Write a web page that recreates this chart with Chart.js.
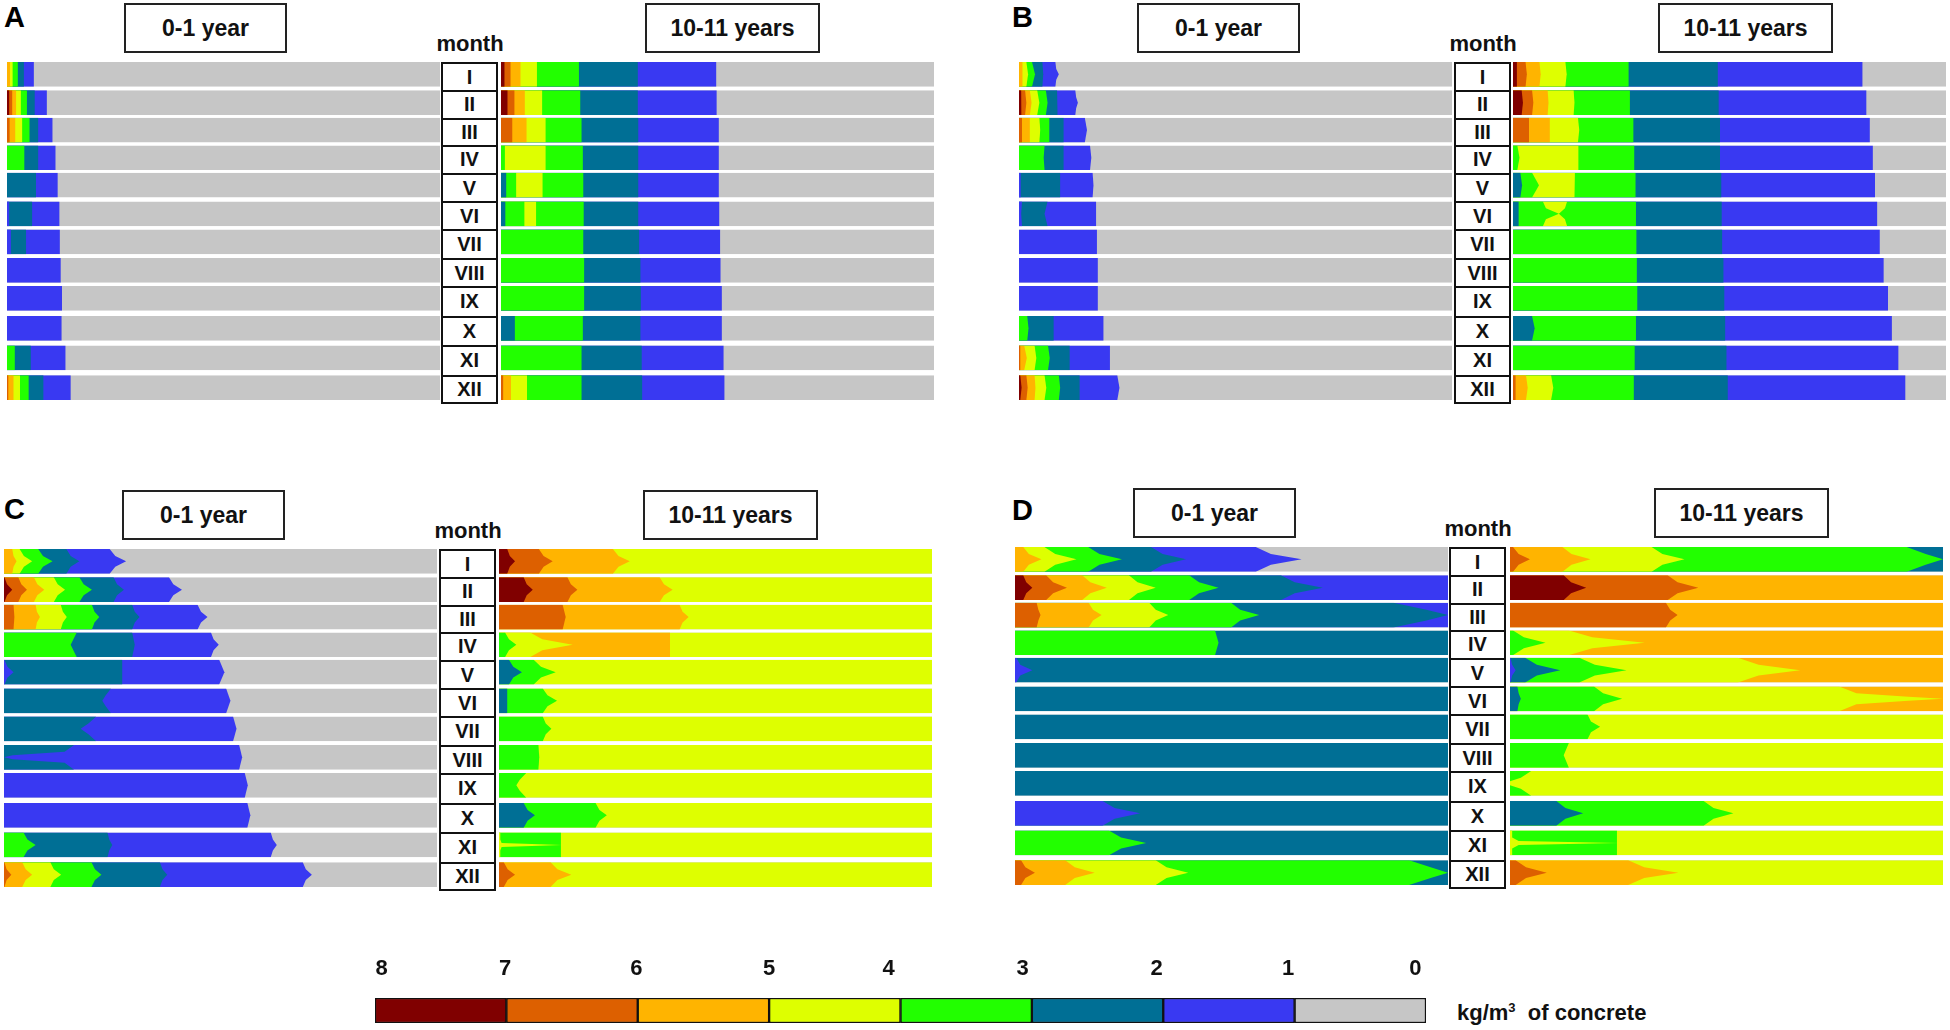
<!DOCTYPE html>
<html>
<head>
<meta charset="utf-8">
<title>Chloride content in concrete</title>
<script src="https://cdn.jsdelivr.net/npm/chart.js@4"></script>
<style>
    body { margin: 0; background: #fff; font-family: "Liberation Sans", Arial, sans-serif; font-weight: bold; color: #111; }
    #page { position: relative; width: 1950px; height: 1030px; overflow: hidden; }
    canvas { position: absolute; }
    .title { position: absolute; box-sizing: border-box; height: 50px; border: 2px solid #222; text-align: center; font-size: 23px; line-height: 46px; background: #fff; }
    .month { position: absolute; box-sizing: border-box; border: 2px solid #111; background: #fff; text-align: center; font-size: 20px; }
    .text { position: absolute; white-space: nowrap; }
    sup { font-size: 13px; line-height: 0; }
</style>
</head>
<body>
<div id="page"></div>
<script>
const months = ["I", "II", "III", "IV", "V", "VI", "VII", "VIII", "IX", "X", "XI", "XII"];
const ageLabels = ["0-1 year", "10-11 years"];
const legendTicks = ["8", "7", "6", "5", "4", "3", "2", "1", "0"];
// the figure's scale numbers do not sit exactly on the colour steps
const legendTickPos = [7.95, 7.01, 6.01, 5, 4.09, 3.07, 2.05, 1.05, 0.08];
const legendUnit = "kg/m<sup>3</sup>&nbsp; of concrete";

// colour of the band by its kg/m3 class: 0 = 0-1 ... 7 = 7-8
const levelColors = ["#c6c6c6", "#3939f2", "#006f95", "#22ff00", "#deff00", "#ffb400", "#dd6000", "#800000"];

// every row is one month, a list of bands from left to right
// [class, depth at row edge, (depths part way in), depth at row centre], depth in % of the row
const aYoung = [
    [[5, 0.7], [4, 1.3], [3, 2.5], [2, 3.9], [1, 6.2]],
    [[7, 0.5], [6, 1.2], [5, 2.1], [4, 3.2], [3, 4.6], [2, 6.4], [1, 9.2]],
    [[6, 0.6], [5, 1.9], [4, 3.5], [3, 5.2], [2, 7.2], [1, 10.5]],
    [[3, 4], [2, 7.2], [1, 11.2]],
    [[2, 6.7], [1, 11.7]],
    [[1, 0.5], [2, 5.8], [1, 12.1]],
    [[1, 0.9], [2, 4.4], [1, 12.2]],
    [[1, 12.4]],
    [[1, 12.7]],
    [[1, 12.6]],
    [[3, 1.8], [2, 5.5], [1, 13.5]],
    [[6, 0.3], [5, 1.5], [4, 3], [3, 5], [2, 8.4], [1, 14.7]]
];
const aOld = [
    [[7, 0.8], [6, 2.2], [5, 4.5], [4, 8.3], [3, 18], [2, 31.6], [1, 49.7]],
    [[7, 1.5], [6, 3.1], [5, 5.5], [4, 9.5], [3, 18.3], [2, 31.6], [1, 49.8]],
    [[6, 2.6], [5, 5.9], [4, 10.3], [3, 18.6], [2, 31.7], [1, 50.3]],
    [[3, 0.9], [4, 10.3], [3, 18.9], [2, 31.7], [1, 50.3]],
    [[2, 1.2], [3, 3.5], [4, 9.6], [3, 19], [2, 31.7], [1, 50.3]],
    [[2, 1], [3, 5.4], [4, 8.1], [3, 19.1], [2, 31.7], [1, 50.4]],
    [[3, 19], [2, 31.9], [1, 50.6]],
    [[3, 19.2], [2, 32.2], [1, 50.7]],
    [[3, 19.2], [2, 32.3], [1, 51]],
    [[2, 3.2], [3, 18.9], [2, 32.2], [1, 51]],
    [[3, 18.6], [2, 32.5], [1, 51.4]],
    [[6, 0.5], [5, 2.3], [4, 6], [3, 18.6], [2, 32.6], [1, 51.6]]
];
const bYoung = [
    [[5, 0.8], [4, 1.7, 2.1], [3, 3, 3.7], [2, 5.4, 5.6], [1, 8.4, 8.6, 9.2]],
    [[7, 0.5, 0.6], [6, 1.4, 1.7], [5, 2.5, 2.9], [4, 4.2, 4.7], [3, 6.2, 6.6], [2, 8.8, 9], [1, 13, 13.2, 13.6]],
    [[6, 0.7], [5, 2.5], [4, 4.7, 4.9], [3, 7], [2, 10.3], [1, 15.2, 15.7]],
    [[3, 5.9, 5.7], [2, 10.3], [1, 16.4, 16.7]],
    [[1, 0.4], [2, 9.5], [1, 17, 17.2]],
    [[1, 0.7, 0.5], [2, 6.6, 5.9], [1, 17.8]],
    [[1, 18]],
    [[1, 18.2]],
    [[1, 18.2]],
    [[3, 1.9, 2.2], [2, 8], [1, 19.5]],
    [[6, 0.3], [5, 1.2, 1.8], [4, 3.6, 4], [3, 6.7, 7.1], [2, 11.7], [1, 21]],
    [[7, 0.3, 0.6], [6, 1.7, 2], [5, 3.6, 3.8], [4, 5.9, 6.3], [3, 9.2, 9.5], [2, 14], [1, 22.7, 23.2]]
];
const bOld = [
    [[7, 0.9], [6, 2.9, 3.2], [5, 6.1, 6.4], [4, 12.1, 12.4], [3, 26.7], [2, 47.3], [1, 80.7]],
    [[7, 2, 2.3], [6, 4.4, 4.7], [5, 8, 8.2], [4, 14, 14.2], [3, 27], [2, 47.5], [1, 81.6]],
    [[6, 3.7], [5, 8.5], [4, 15, 15.3], [3, 27.8], [2, 47.8], [1, 82.4]],
    [[3, 1, 1.5], [4, 15.1], [3, 28], [2, 47.8], [1, 83.1]],
    [[2, 1.7, 2.1], [3, 4.4, 6], [4, 14.3, 14.1], [3, 28.3], [2, 48.1], [1, 83.6]],
    [[2, 1.3], [3, 6.9, 7.6, 10.6], [4, 12.5, 12, 10.6], [3, 28.4], [2, 48.2], [1, 84.1]],
    [[3, 28.5], [2, 48.3], [1, 84.7]],
    [[3, 28.6], [2, 48.6], [1, 85.6]],
    [[3, 28.7], [2, 48.8], [1, 86.6]],
    [[2, 4.4, 5], [3, 28.4], [2, 49], [1, 87.5]],
    [[3, 28.1], [2, 49.3], [1, 89]],
    [[6, 0.6], [5, 3, 3.4], [4, 8.8, 9.3], [3, 27.9], [2, 49.6], [1, 90.6]]
];
const cYoung = [
    [[5, 1.9, 2.2, 2.9], [4, 3.6, 4.6, 6.5], [3, 7.9, 9, 11.2], [2, 14.4, 15.4, 17.4], [1, 24.4, 25.7, 28.2]],
    [[7, 0.1, 0.7, 1.9], [6, 3.3, 4, 5.3], [5, 6.9, 7.7, 9.3], [4, 11.5, 12.4, 14.1], [3, 17.4, 18.4, 20.3], [2, 25.3, 26.1, 27.7], [1, 38.1, 39.1, 41.1]],
    [[6, 2.2, 2.4], [5, 7.3, 7.6, 8.3], [4, 13.1, 13.6, 14.5], [3, 20.3, 20.9, 22], [2, 29.6, 30.2, 31.3], [1, 44.7, 45.5, 47]],
    [[3, 16.8, 15.4], [2, 29.6, 30.2], [1, 47.8, 48.4, 49.6]],
    [[1, 0.1, 0.8, 2.2], [2, 27.3], [1, 49.7, 50.9]],
    [[2, 24.7, 23.5, 22.7], [1, 51.3, 52.3]],
    [[2, 21.3, 19.5, 17.7], [1, 52.9, 53.7]],
    [[2, 16.2, 14, 2, 0], [1, 54.3, 55]],
    [[1, 55.6, 56.3]],
    [[1, 56.2, 56.9]],
    [[3, 4.5, 5.4, 7.3], [2, 23.9, 24.3, 25], [1, 61.6, 62.1, 63]],
    [[6, 0.1, 0.6, 1.7], [5, 4.2, 5, 6.5], [4, 10.7, 11.5, 13.2], [3, 20.2, 21, 22.5], [2, 36, 36.6, 37.7], [1, 69, 69.7, 71.1]]
];
const cOld = [
    [[7, 1.9, 2.5, 3.7], [6, 9.2, 10.3, 12.4], [5, 26.3, 27.6, 30.2], [4, 100]],
    [[7, 5.7, 6.4, 7.8], [6, 15.8, 16.6, 18.1], [5, 37.1, 38.1, 40.1], [4, 100]],
    [[6, 14.7, 15.4], [5, 41.7, 42.4, 43.8], [4, 100]],
    [[3, 1.4, 2.3, 4], [4, 7.2, 10, 17], [5, 39.5], [4, 100]],
    [[2, 2.3, 3.3, 5.3], [3, 8, 9.7, 13.1], [4, 100]],
    [[2, 1.9], [3, 10.1, 11.2, 13.4], [4, 100]],
    [[3, 10.1, 10.8, 12.1], [4, 100]],
    [[3, 9.1, 9.3], [4, 100]],
    [[3, 6.3, 4.8, 4], [4, 100]],
    [[2, 5.7, 6.6, 8.3], [3, 22.3, 23.2, 24.9], [4, 100]],
    [[4, 0.3, 0.3, 0.6, 14.5], [3, 14.3], [4, 100]],
    [[6, 1.1, 2, 3.7], [5, 11.9, 13.5, 16.7], [4, 100]]
];
const dYoung = [
    [[5, 1.9, 3.2, 6.1], [4, 6.8, 9.3, 14.2], [3, 16.9, 19.5, 24.7], [2, 31.4, 34.1, 39.5], [1, 55.6, 59.1, 66.2]],
    [[7, 1.9, 2.6, 4], [6, 7.2, 8.8, 12], [5, 15.5, 17.4, 21.2], [4, 26.3, 28.3, 32.5], [3, 40.2, 42.5, 47], [2, 61.4, 64.6, 71.1], [1, 100]],
    [[6, 5, 5.4, 5.9], [5, 17, 18, 20], [4, 31, 32.5, 35.4], [3, 49.9, 52, 56.4], [2, 87.4, 95, 100], [1, 100]],
    [[3, 46.2, 47], [2, 100]],
    [[1, 0.3, 1.2, 4], [2, 100]],
    [[2, 100]],
    [[2, 100]],
    [[2, 100]],
    [[2, 100]],
    [[1, 20.2, 23, 28.9], [2, 100]],
    [[3, 21.7, 24.5, 30.3], [2, 100]],
    [[6, 1.4, 2.4, 4.6], [5, 11.6, 13.8, 18.4], [4, 32.5, 35, 40], [3, 91, 96, 100], [2, 100]]
];
const dOld = [
    [[6, 0.7, 2, 4.6], [5, 12.1, 14.2, 18.6], [4, 32.7, 35.2, 40.3], [3, 91.6, 96, 100], [2, 100]],
    [[7, 12.4, 14.1, 17.6], [6, 36.4, 38.7, 43.5], [5, 100]],
    [[6, 36, 37, 38.7], [5, 100]],
    [[3, 0.7, 3.2, 8.2], [4, 13.6, 19, 31.1], [5, 100]],
    [[1, 0.1, 0.5, 1.3], [2, 3.5, 6.2, 11.6], [3, 16, 19.6, 26.9], [4, 52.6, 57.4, 67], [5, 100]],
    [[2, 1.7, 2, 2.5], [3, 19.4, 21.5, 25.9], [4, 76, 80, 92, 100], [5, 100]],
    [[3, 17.9, 18.7, 20.8], [4, 100]],
    [[3, 13.6, 12.4], [4, 100]],
    [[3, 4.9, 2.5, 0, 0], [4, 100]],
    [[2, 10.7, 12.8, 16.9], [3, 44.7, 47, 51.6], [4, 100]],
    [[4, 0.5, 0.5, 2, 25], [3, 24.7], [4, 100]],
    [[6, 1.3, 3.7, 8.5], [5, 27.3, 31, 38.9], [4, 100]]
];

// month rows are not evenly spaced in the figure, position in row-pitch units
const rowPos = [0, 0.995, 1.958, 2.928, 3.891, 4.896, 5.88, 6.879, 7.863, 8.917, 9.958, 11];
const rowH = 0.868;
const pitch = 28.45;

const panels = [
    { letter: "A", letterX: 4, letterY: 18, top: 62, leftX: 7, monthX: 441, rightX: 501, box1: 124, box2: 645, young: aYoung, old: aOld },
    { letter: "B", letterX: 1012, letterY: 18, top: 62, leftX: 1019, monthX: 1454, rightX: 1513, box1: 1137, box2: 1658, young: bYoung, old: bOld },
    { letter: "C", letterX: 4, letterY: 510, top: 549, leftX: 4, monthX: 439, rightX: 499, box1: 122, box2: 643, young: cYoung, old: cOld },
    { letter: "D", letterX: 1012, letterY: 511, top: 547, leftX: 1015, monthX: 1449, rightX: 1510, box1: 1133, box2: 1654, young: dYoung, old: dOld }
];

const page = document.getElementById("page");

function addText(cls, html, css) {
    const el = document.createElement("div");
    el.className = cls;
    el.innerHTML = html;
    Object.assign(el.style, css);
    page.appendChild(el);
    return el;
}

function addCanvas(x, y, w, h) {
    const canvas = document.createElement("canvas");
    canvas.width = w;
    canvas.height = h;
    canvas.style.left = x + "px";
    canvas.style.top = y + "px";
    canvas.style.width = w + "px";
    canvas.style.height = h + "px";
    page.appendChild(canvas);
    return canvas;
}

// a band is a line through its depth profile, filled back to depth 0.
// chart.js paints dataset 0 last, so bands further left end up on top
function bandDatasets(rows) {
    const datasets = [];
    rows.forEach((bands, i) => {
        const top = rowPos[i];
        [...bands, [0, 100]].forEach(b => {
            const depths = b.slice(1);
            let steps;
            if (depths.length === 1) {
                steps = [0, 1];
                depths.push(depths[0]);
            } else if (depths.length === 2) {
                steps = [0, 0.5];
            } else if (depths.length === 3) {
                steps = [0, 0.28, 0.5];
            } else {
                steps = [0, 0.28, 0.42, 0.5];
            }
            const points = steps.map((t, k) => ({ x: depths[k], y: top + rowH * t }));
            // mirror the upper half of the row, rows with one depth are already complete
            if (steps[steps.length - 1] === 0.5) {
                for (let k = steps.length - 2; k >= 0; k--) {
                    points.push({ x: depths[k], y: top + rowH * (1 - steps[k]) });
                }
            }
            datasets.push({
                data: points,
                backgroundColor: levelColors[b[0]],
                borderWidth: 0,
                pointRadius: 0,
                tension: 0,
                fill: "origin"
            });
        });
    });
    return datasets;
}

function drawBands(canvas, rows) {
    new Chart(canvas.getContext("2d"), {
        type: "line",
        data: { datasets: bandDatasets(rows) },
        options: {
            indexAxis: "y",
            responsive: false,
            animation: false,
            events: [],
            layout: { padding: 0 },
            plugins: { legend: { display: false }, tooltip: { enabled: false } },
            scales: {
                x: { type: "linear", min: 0, max: 100, display: false },
                y: { type: "linear", min: 0, max: rowPos[11] + rowH, reverse: true, display: false }
            }
        }
    });
}

panels.forEach(p => {
    addText("text", p.letter, { left: p.letterX + "px", top: (p.letterY - 17) + "px", fontSize: "29px", color: "#000" });
    addText("title", ageLabels[0], { left: p.box1 + "px", top: (p.top - 59) + "px", width: "163px" });
    addText("title", ageLabels[1], { left: p.box2 + "px", top: (p.top - 59) + "px", width: "175px" });
    addText("text", "month", { left: (p.monthX - 6) + "px", width: "70px", textAlign: "center", top: (p.top - 31) + "px", fontSize: "22px" });

    drawBands(addCanvas(p.leftX, p.top, 433, 338), p.young);
    drawBands(addCanvas(p.rightX, p.top, 433, 338), p.old);

    months.forEach((m, i) => {
        const y = p.top + rowPos[i] * pitch;
        const next = i < 11 ? p.top + rowPos[i + 1] * pitch : y + 27;
        addText("month", m, {
            left: p.monthX + "px",
            top: y + "px",
            width: "57px",
            height: (next - y + 2) + "px",
            lineHeight: (next - y - 2) + "px"
        });
    });
});

// colour scale under the panels, a single stacked bar on a reversed axis
new Chart(addCanvas(355, 950, 1091, 73).getContext("2d"), {
    type: "bar",
    data: {
        labels: ["scale"],
        datasets: levelColors.map(c => ({
            data: [1],
            backgroundColor: c,
            borderColor: "#111",
            borderWidth: 1.5,
            borderSkipped: false,
            barPercentage: 1,
            categoryPercentage: 1
        }))
    },
    options: {
        indexAxis: "y",
        responsive: false,
        animation: false,
        events: [],
        layout: { padding: { left: 20, right: 20, top: 0, bottom: 0 } },
        plugins: { legend: { display: false }, tooltip: { enabled: false } },
        scales: {
            x: {
                type: "linear",
                position: "top",
                min: 0,
                max: 8,
                reverse: true,
                stacked: true,
                grid: { display: false, drawTicks: false },
                border: { display: false },
                afterBuildTicks: axis => { axis.ticks = legendTickPos.map(v => ({ value: v })); },
                afterFit: axis => { axis.height = 48; },
                ticks: {
                    color: "#111",
                    padding: 16,
                    maxRotation: 0,
                    autoSkip: false,
                    callback: (value, index) => legendTicks[index],
                    font: { family: "'Liberation Sans'", size: 22, weight: "bold" }
                }
            },
            y: { stacked: true, display: false }
        }
    }
});

addText("text", legendUnit, { left: "1457px", top: "1000px", fontSize: "22px" });
</script>
</body>
</html>
